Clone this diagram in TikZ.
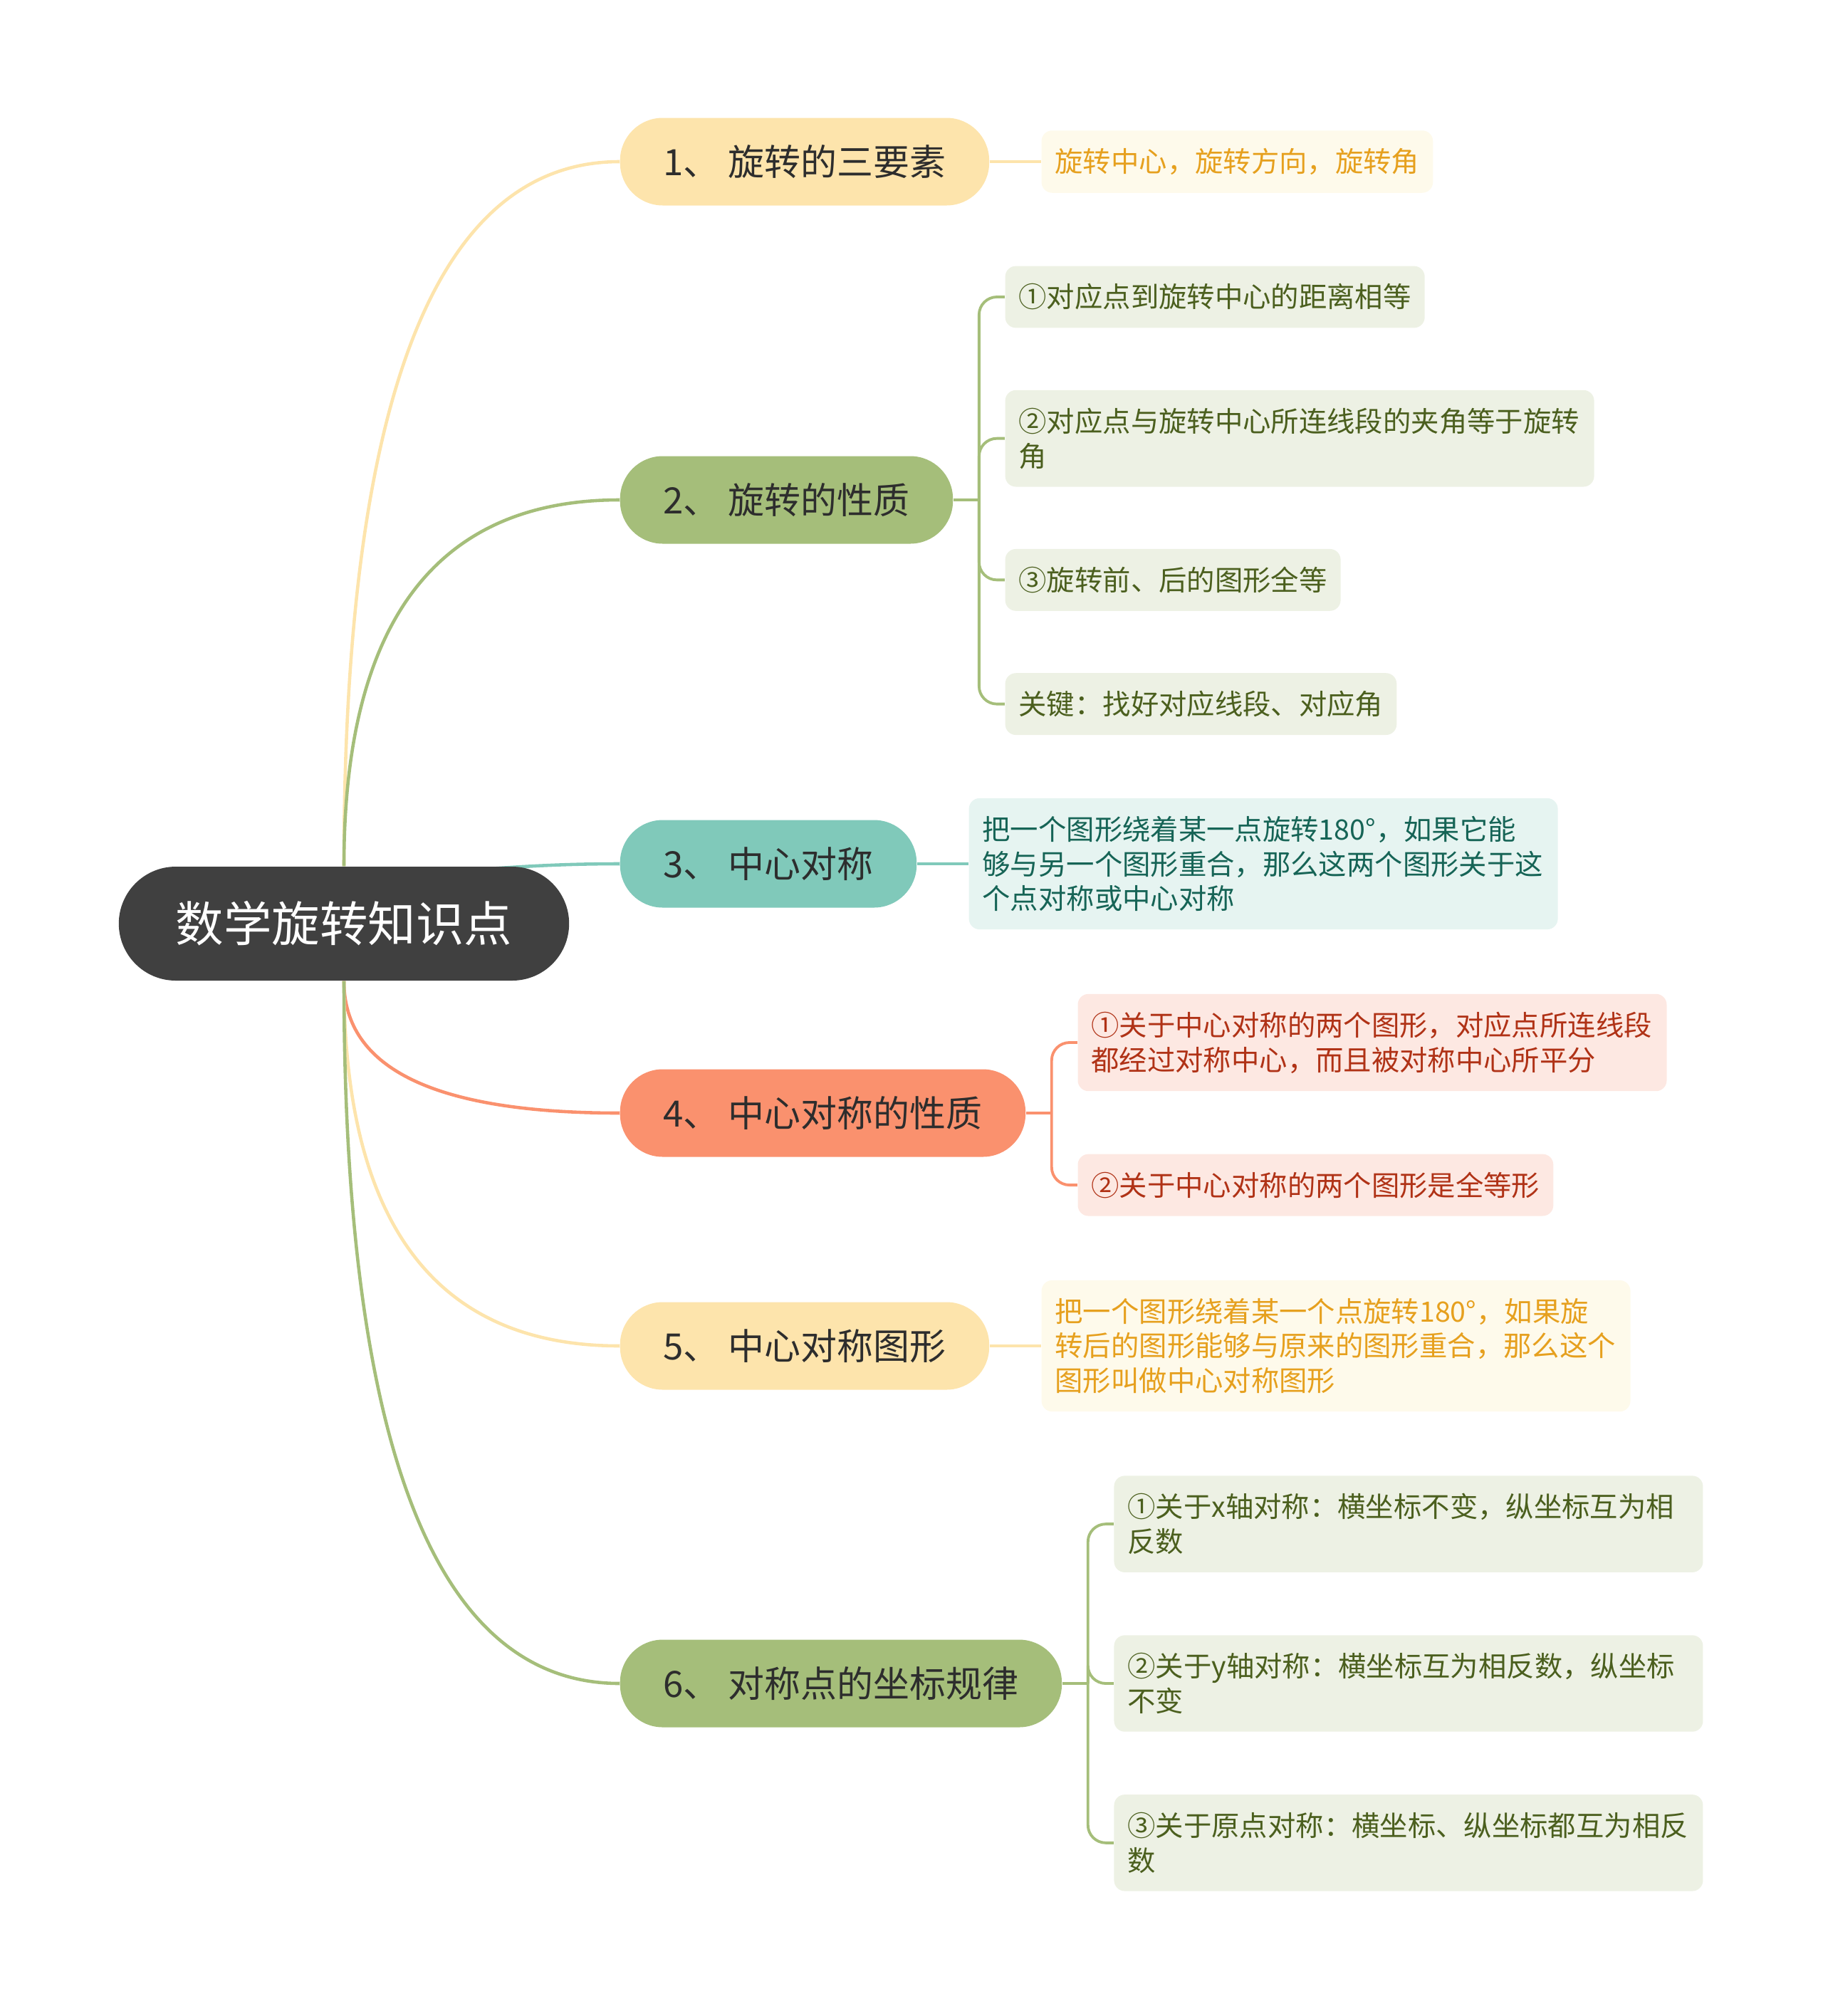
\documentclass[tikz,border=0pt]{standalone}
\usepackage{fontspec}
\newfontfamily\cjkfont{Noto Sans CJK SC}
\usetikzlibrary{positioning, backgrounds}
\definecolor{rootgray}{RGB}{64,64,64}
\definecolor{topictext}{RGB}{45,45,45}
\definecolor{sunfill}{RGB}{253,228,172}
\definecolor{sunleaf}{RGB}{254,250,235}
\definecolor{suntext}{RGB}{230,160,30}
\definecolor{sagefill}{RGB}{165,190,122}
\definecolor{sageleaf}{RGB}{237,241,228}
\definecolor{sagetext}{RGB}{75,95,30}
\definecolor{tealfill}{RGB}{128,201,186}
\definecolor{tealleaf}{RGB}{230,244,241}
\definecolor{tealtext}{RGB}{22,100,86}
\definecolor{coralfill}{RGB}{250,145,110}
\definecolor{coralleaf}{RGB}{253,232,226}
\definecolor{coraltext}{RGB}{176,50,22}

\begin{document}
\begin{tikzpicture}[
  font=\cjkfont,
  rootbox/.style={rectangle, rounded corners=0.8cm, fill=rootgray, text=white,
    minimum height=1.6cm, inner xsep=0.8cm, inner ysep=0pt,
    font=\cjkfont\fontsize{19.2pt}{23pt}\selectfont},
  topic/.style={rectangle, rounded corners=0.6cm, minimum height=1.23cm,
    inner xsep=0.61cm, inner ysep=0pt, text=topictext, anchor=west,
    font=\cjkfont\fontsize{14.5pt}{17pt}\selectfont},
  leaf/.style={rectangle, rounded corners=0.15cm, align=left,
    inner xsep=0.19cm, inner ysep=0.25cm,
    font=\cjkfont\fontsize{11.2pt}{13.9pt}\selectfont},
  wrapped/.style={leaf, text width=7.89cm},
  link/.style={line width=1.3pt},
  twig/.style={line width=1.1pt, rounded corners=0.25cm}
]
\useasboundingbox (0,0) rectangle (25.6,-28.31);

\node[rootbox] (root) at (4.83,-12.97) {数学旋转知识点};

\node[topic, fill=sunfill] (b1) at (8.70,-2.27) {1、 旋转的三要素};
\node[topic, fill=sagefill] (b2) at (8.70,-7.02) {2、 旋转的性质};
\node[topic, fill=tealfill] (b3) at (8.70,-12.13) {3、 中心对称};
\node[topic, fill=coralfill] (b4) at (8.70,-15.63) {4、 中心对称的性质};
\node[topic, fill=sunfill] (b5) at (8.70,-18.90) {5、 中心对称图形};
\node[topic, fill=sagefill] (b6) at (8.70,-23.64) {6、 对称点的坐标规律};

% first topic
\node[leaf, fill=sunleaf, text=suntext, right=0.72cm of b1] (l1) {旋转中心，旋转方向，旋转角};

% second topic
\node[leaf, fill=sageleaf, text=sagetext, right=0.72cm of b2, yshift=2.85cm] (l2a) {①对应点到旋转中心的距离相等};
\node[wrapped, fill=sageleaf, text=sagetext, below=0.86cm of l2a.south west, anchor=north west] (l2b) {②对应点与旋转中心所连线段的夹角等于旋转\\角};
\node[leaf, fill=sageleaf, text=sagetext, below=0.86cm of l2b.south west, anchor=north west] (l2c) {③旋转前、后的图形全等};
\node[leaf, fill=sageleaf, text=sagetext, below=0.86cm of l2c.south west, anchor=north west] (l2d) {关键：找好对应线段、对应角};

% third topic
\node[wrapped, fill=tealleaf, text=tealtext, right=0.72cm of b3] (l3) {把一个图形绕着某一点旋转180°，如果它能\\够与另一个图形重合，那么这两个图形关于这\\个点对称或中心对称};

% fourth topic
\node[wrapped, fill=coralleaf, text=coraltext, right=0.72cm of b4, yshift=0.99cm] (l4a) {①关于中心对称的两个图形，对应点所连线段\\都经过对称中心，而且被对称中心所平分};
\node[leaf, fill=coralleaf, text=coraltext, below=0.87cm of l4a.south west, anchor=north west] (l4b) {②关于中心对称的两个图形是全等形};

% fifth topic
\node[wrapped, fill=sunleaf, text=suntext, right=0.72cm of b5] (l5) {把一个图形绕着某一个点旋转180°，如果旋\\转后的图形能够与原来的图形重合，那么这个\\图形叫做中心对称图形};

% sixth topic
\node[wrapped, fill=sageleaf, text=sagetext, right=0.72cm of b6] (l6b) {②关于y轴对称：横坐标互为相反数，纵坐标\\不变};
\node[wrapped, fill=sageleaf, text=sagetext, above=0.87cm of l6b.north west, anchor=south west] (l6a) {①关于x轴对称：横坐标不变，纵坐标互为相\\反数};
\node[wrapped, fill=sageleaf, text=sagetext, below=0.87cm of l6b.south west, anchor=north west] (l6c) {③关于原点对称：横坐标、纵坐标都互为相反\\数};

\begin{scope}[on background layer]
% root to topics
\draw[link, sunfill] (root.north) .. controls +(0,6.6) and +(-2.57,0) .. (b1.west);
\draw[link, sagefill] (root.north) .. controls +(0,3.43) and +(-2.57,0) .. (b2.west);
\draw[link, tealfill] ([yshift=-0.12cm]root.north) .. controls +(1.6,0) and +(-1.6,0) .. (b3.west);
\draw[link, coralfill] (root.south) .. controls +(0,-1.24) and +(-2.57,0) .. (b4.west);
\draw[link, sunfill] (root.south) .. controls +(0,-3.42) and +(-2.57,0) .. (b5.west);
\draw[link, sagefill] (root.south) .. controls +(0,-6.58) and +(-2.57,0) .. (b6.west);

% topics to leaves
\draw[twig, sunfill] (b1) -- (l1);
\draw[twig, tealfill] (b3) -- (l3);
\draw[twig, sunfill] (b5) -- (l5);
\draw[twig, sagefill] (b2.east) -- ++(0.36,0) coordinate (s2);
\foreach \n in {l2a,l2b,l2c,l2d}
  \draw[twig, sagefill] (s2) |- (\n.west);
\draw[twig, coralfill] (b4.east) -- ++(0.36,0) coordinate (s4);
\foreach \n in {l4a,l4b}
  \draw[twig, coralfill] (s4) |- (\n.west);
\draw[twig, sagefill] (b6.east) -- ++(0.36,0) coordinate (s6);
\foreach \n in {l6a,l6b,l6c}
  \draw[twig, sagefill] (s6) |- (\n.west);
\end{scope}
\end{tikzpicture}
\end{document}
